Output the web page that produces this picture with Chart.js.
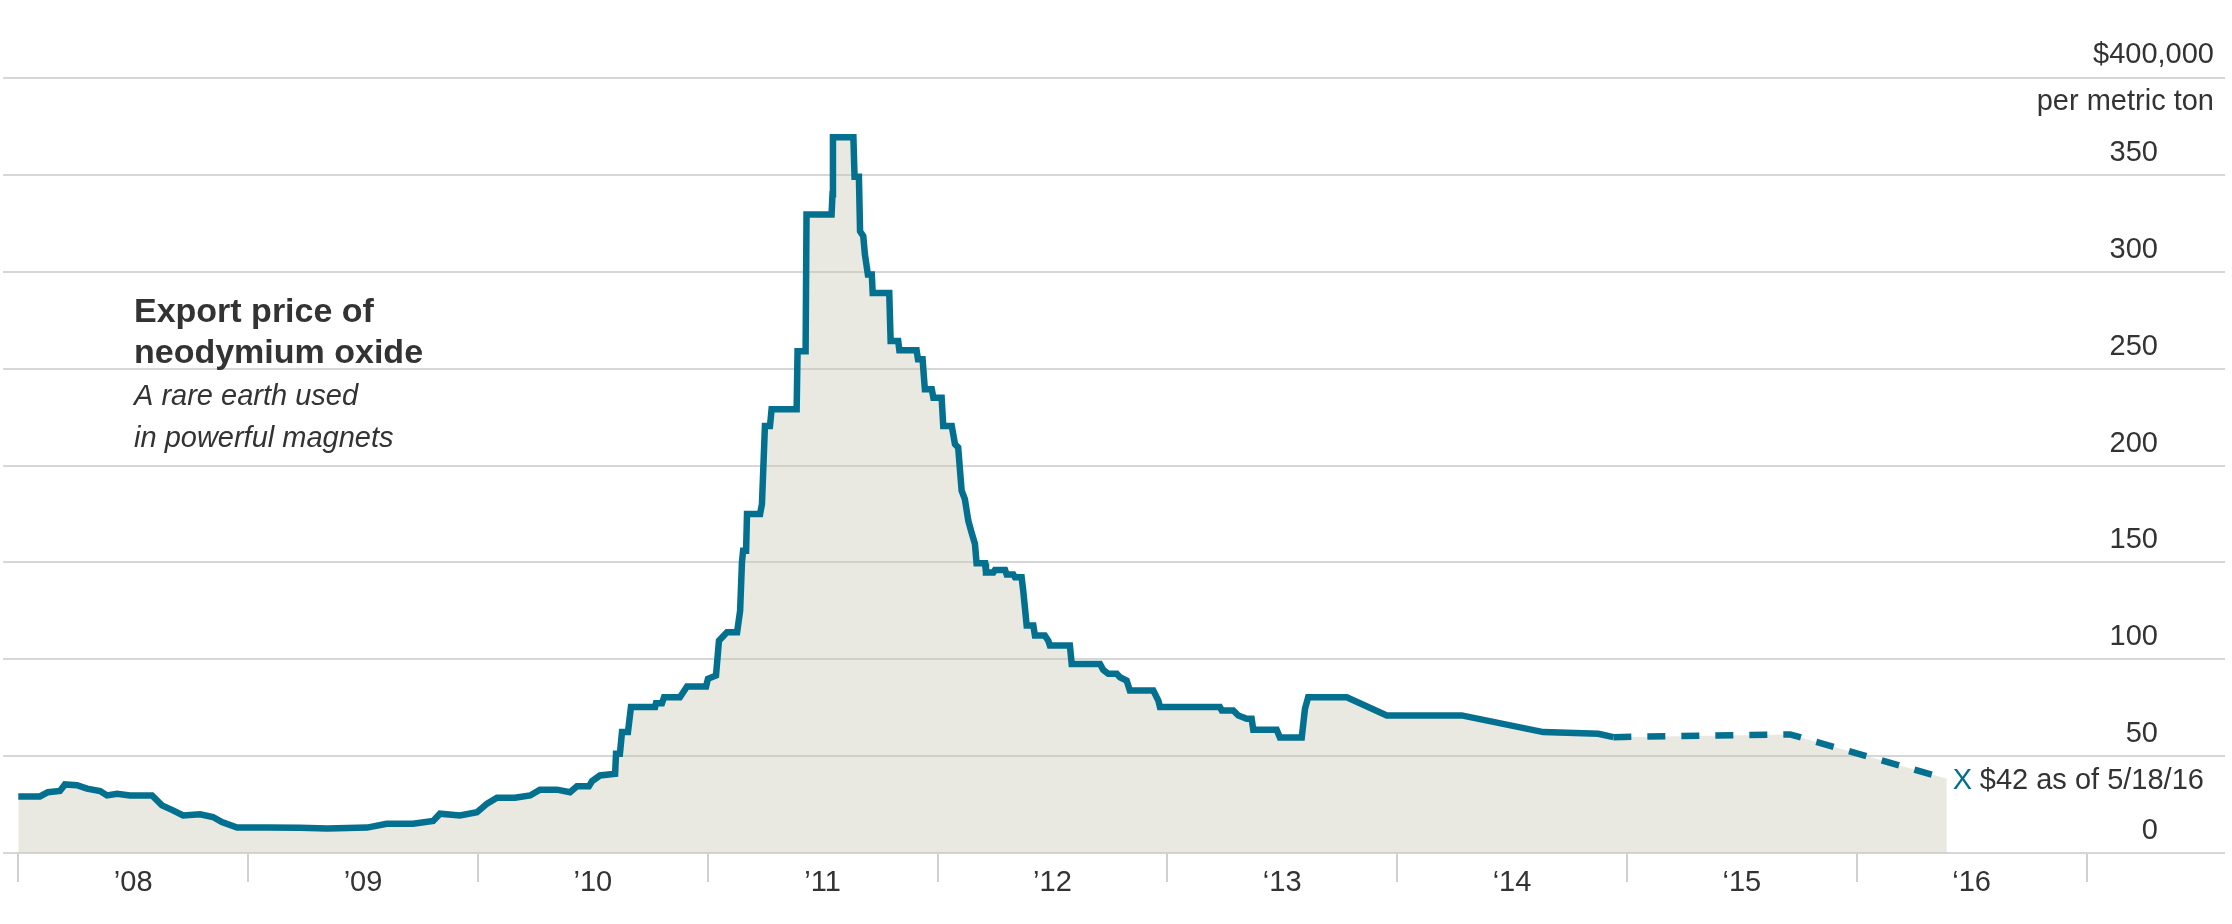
<!DOCTYPE html>
<html>
<head>
<meta charset="utf-8">
<script src="https://cdn.jsdelivr.net/npm/chart.js@4.4.1/dist/chart.umd.min.js"></script>
<style>
html,body{margin:0;padding:0;background:#ffffff;}
canvas{display:block;}
</style>
</head>
<body>
<canvas id="c" width="2232" height="924"></canvas>
<script>
// ---- data (price in thousands of dollars per metric ton; dates as decimal years) ----
const dates = [
2008.000,2008.094,2008.129,2008.181,2008.203,2008.255,2008.299,2008.356,2008.386,2008.430,
2008.486,2008.582,2008.625,2008.673,2008.717,2008.791,2008.847,2008.886,2008.952,2009.083,
2009.226,2009.344,2009.518,2009.603,2009.718,2009.805,2009.835,2009.922,2009.996,2010.040,
2010.083,2010.161,2010.227,2010.270,2010.344,2010.401,2010.431,2010.483,2010.497,2010.531,
2010.597,2010.601,2010.618,2010.627,2010.653,2010.666,2010.771,2010.775,2010.801,2010.810,
2010.879,2010.910,2010.993,2011.001,2011.036,2011.049,2011.084,2011.128,2011.141,2011.149,
2011.154,2011.167,2011.171,2011.228,2011.236,2011.249,2011.271,2011.278,2011.387,2011.391,
2011.426,2011.430,2011.539,2011.543,2011.545,2011.634,2011.639,2011.658,2011.663,2011.677,
2011.684,2011.697,2011.714,2011.718,2011.790,2011.796,2011.829,2011.834,2011.909,2011.915,
2011.935,2011.945,2011.975,2011.982,2012.018,2012.025,2012.062,2012.076,2012.090,2012.105,
2012.119,2012.134,2012.148,2012.163,2012.170,2012.207,2012.211,2012.243,2012.250,2012.294,
2012.301,2012.330,2012.337,2012.366,2012.373,2012.388,2012.417,2012.424,2012.467,2012.482,
2012.489,2012.576,2012.584,2012.707,2012.721,2012.743,2012.780,2012.794,2012.823,2012.837,
2012.939,2012.961,2012.968,2013.229,2013.237,2013.287,2013.309,2013.346,2013.367,2013.374,
2013.476,2013.490,2013.585,2013.599,2013.613,2013.781,2013.955,2014.281,2014.636,2014.876,
2014.941,2015.710,2016.392
];
const prices = [
29.2,29.2,31.4,32.0,35.4,35.0,33.2,32.0,29.7,30.6,
29.7,29.7,24.6,22.0,19.4,20.0,18.6,16.0,13.1,13.1,
13.0,12.6,13.1,15.1,15.1,16.5,20.3,19.4,21.1,25.5,
28.5,28.5,29.7,32.7,32.7,31.4,34.4,34.4,37.1,40.0,
40.9,51.2,51.2,62.4,62.4,75.3,75.3,77.3,77.3,80.4,
80.4,85.9,85.9,89.9,91.6,109.6,113.9,113.9,125.0,150.0,
156.0,156.0,175.0,175.0,180.0,220.4,220.4,229.0,229.0,259.0,
259.0,329.6,329.6,340.0,369.4,369.4,349.0,349.0,320.9,318.4,
309.0,298.6,298.6,289.0,289.0,264.3,264.3,259.5,259.5,254.8,
254.8,239.4,239.4,235.0,235.0,220.4,220.4,211.0,209.3,187.0,
182.7,171.5,165.5,159.5,149.5,149.5,144.8,144.8,146.1,146.1,
143.7,143.7,142.3,142.3,135.4,117.4,117.4,112.2,112.2,109.6,
107.1,107.1,97.6,97.6,94.5,92.5,92.5,90.7,89.0,83.9,
83.9,78.7,75.3,75.3,73.6,73.6,71.0,69.3,69.3,63.6,
63.6,59.6,59.6,74.4,80.4,80.4,71.0,71.0,62.4,61.5,
59.8,61.2,38.3
];
const dashFrom = 2014.94;           // estimated segment shown dashed
const yearTicks = [2008,2009,2010,2011,2012,2013,2014,2015,2016,2017];
const yearLabels = ["\u201908","\u201909","\u201910","\u201911","\u201912","\u201813","\u201814","\u201815","\u201816"];
const yTickValues = [0,50,100,150,200,250,300,350,400];
const yTickLabels = ["0","50","100","150","200","250","300","350",""];
const unitLabel = ["$400,000","per metric ton"];
const titleLines = ["Export price of","neodymium oxide"];
const subtitleLines = ["A rare earth used","in powerful magnets"];
const endMarker = "X";
const endNote = "$42 as of 5/18/16";

// ---- styles ----
const FONT = '"Liberation Sans", Arial, Helvetica, sans-serif';
const lineColor = '#04708f';
const fillColor = 'rgba(200,198,180,0.40)';
const gridColor = '#d6d6d6';
const textColor = '#333333';
Chart.defaults.font.family = FONT;

const xTickValues = [];
yearTicks.forEach((yr, i) => {
  xTickValues.push(yr);
  if (i < yearLabels.length) xTickValues.push(yr + 0.5);
});
const points = dates.map((d, i) => ({x: d, y: prices[i]}));

const textPlugin = {
  id: 'texts',
  afterDatasetsDraw(chart) {
    const {ctx, scales} = chart;
    ctx.save();
    ctx.fillStyle = textColor;
    ctx.textAlign = 'left';
    ctx.textBaseline = 'alphabetic';
    ctx.font = 'bold 34px ' + FONT;
    ctx.fillText(titleLines[0], 134, 322);
    ctx.fillText(titleLines[1], 134, 363);
    ctx.font = 'italic 29px ' + FONT;
    ctx.fillText(subtitleLines[0], 134, 405);
    ctx.fillText(subtitleLines[1], 134, 447);

    // unit label attached to the top y tick
    const yTop = scales.y.getPixelForValue(yTickValues[yTickValues.length - 1]);
    ctx.font = '29px ' + FONT;
    ctx.textAlign = 'right';
    ctx.textBaseline = 'middle';
    ctx.fillText(unitLabel[0], scales.y.right + 56, yTop - 23.5);
    ctx.fillText(unitLabel[1], scales.y.right + 56, yTop + 23.5);

    // end-of-series annotation
    const last = dates.length - 1;
    const px = scales.x.getPixelForValue(dates[last]);
    const py = scales.y.getPixelForValue(prices[last]);
    ctx.textAlign = 'left';
    ctx.fillStyle = lineColor;
    ctx.fillText(endMarker, px + 6, py + 2);
    ctx.fillStyle = textColor;
    ctx.fillText(endNote, px + 33, py + 2);
    ctx.restore();
  }
};

new Chart(document.getElementById('c'), {
  type: 'line',
  data: {
    datasets: [{
      // area under the series
      data: points,
      borderWidth: 0,
      borderColor: 'rgba(0,0,0,0)',
      backgroundColor: fillColor,
      fill: 'origin',
      pointRadius: 0,
      tension: 0,
      order: 2
    }, {
      // the series line, dashed for the latest stretch
      data: points,
      borderColor: lineColor,
      borderWidth: 6.5,
      fill: false,
      pointRadius: 0,
      tension: 0,
      borderJoinStyle: 'miter',
      borderCapStyle: 'butt',
      segment: {
        borderDash: ctx => ctx.p0.parsed.x >= dashFrom ? [18, 16] : undefined
      },
      order: 1
    }]
  },
  options: {
    responsive: false,
    animation: false,
    devicePixelRatio: 1,
    events: [],
    layout: {padding: {left: 3, right: 74, top: 78, bottom: 0}},
    plugins: {legend: {display: false}, tooltip: {enabled: false}, title: {display: false}},
    scales: {
      x: {
        type: 'linear',
        position: 'bottom',
        min: 2007.9334,
        max: 2017.05,
        afterBuildTicks: s => { s.ticks = xTickValues.map(v => ({value: v})); },
        afterFit: s => { s.height = 71; },
        border: {display: false},
        grid: {
          drawOnChartArea: false,
          drawTicks: true,
          tickLength: 29,
          lineWidth: 2,
          tickWidth: 2,
          tickColor: c => (c.tick && Number.isInteger(c.tick.value)) ? '#d0d0d0' : 'rgba(0,0,0,0)'
        },
        ticks: {
          autoSkip: false,
          maxRotation: 0,
          minRotation: 0,
          padding: -16,
          color: textColor,
          font: {size: 29},
          callback: v => {
            const i = yearTicks.indexOf(v - 0.5);
            return (!Number.isInteger(v) && i >= 0) ? yearLabels[i] : '';
          }
        }
      },
      y: {
        position: 'right',
        min: 0,
        max: 400,
        afterBuildTicks: s => { s.ticks = yTickValues.map(v => ({value: v})); },
        afterFit: s => { s.width = 60; },
        border: {display: false},
        grid: {color: gridColor, lineWidth: 2, drawTicks: true, tickLength: 127, tickColor: gridColor},
        ticks: {
          crossAlign: 'far',
          labelOffset: -22,
          padding: 0,
          color: textColor,
          font: {size: 29},
          callback: v => yTickLabels[yTickValues.indexOf(v)]
        }
      }
    }
  },
  plugins: [textPlugin]
});
</script>
</body>
</html>
